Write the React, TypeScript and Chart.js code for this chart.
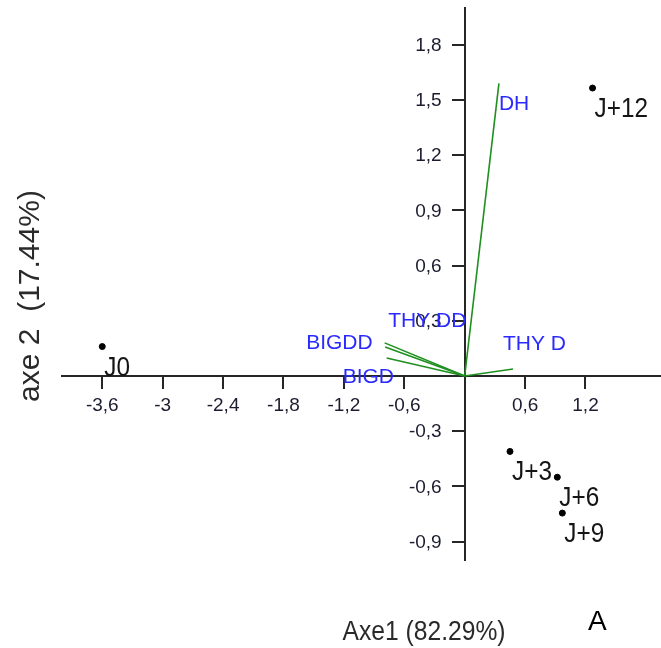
import React, { useEffect, useRef } from "react";
import { Chart, registerables } from "chart.js";

Chart.register(...registerables);

// ---- data ----
const obsLabels = ["J0", "J+3", "J+6", "J+9", "J+12"];
const obsX = [-3.6, 0.45, 0.92, 0.97, 1.27];
const obsY = [0.16, -0.41, -0.55, -0.745, 1.565];

const varLabels = ["DH", "THY D", "BIGDD", "THY DD", "BIGD"];
const varX = [0.34, 0.48, -0.795, -0.79, -0.775];
const varY = [1.59, 0.038, 0.18, 0.158, 0.098];

const xTicks = [-3.6, -3, -2.4, -1.8, -1.2, -0.6, 0.6, 1.2];
const yTicks = [-0.9, -0.6, -0.3, 0.3, 0.6, 0.9, 1.2, 1.5, 1.8];

const xTitle = "Axe1 (82.29%)";
const yTitle = "axe 2  (17.44%)";
const panelLetter = "A";

// ---- styles ----
const FONT = "'Liberation Sans', Arial, sans-serif";
const BLUE = "#2a2aff";
const GREEN = "#1f8f1f";
const AXIS = "#262626";
const TICK = "#1c1c30";
const TICK_LEN = 12;
// label offsets (px) relative to arrow tips: [dx, dy, align]
const VAR_LABEL_OFFSETS: [number, number, CanvasTextAlign][] = [
  [0, 27, "left"],
  [-10, -19, "left"],
  [-12, 6, "right"],
  [3, -20, "left"],
  [-44, 25, "left"],
];

const fmt = (v: number) => {
  const r = Math.round(v * 10) / 10;
  return Number.isInteger(r) ? String(r) : r.toFixed(1).replace(".", ",");
};

const yTickLabels = {
  id: "yTickLabels",
  beforeDatasetsDraw(chart: any) {
    const ctx: CanvasRenderingContext2D = chart.ctx;
    const xs = chart.scales.x;
    const ys = chart.scales.y;
    const x0 = xs.getPixelForValue(0);
    ctx.save();
    ctx.font = `19px ${FONT}`;
    ctx.fillStyle = TICK;
    ctx.textAlign = "right";
    ctx.textBaseline = "middle";
    ys.ticks.forEach((t: any) => {
      ctx.fillText(fmt(t.value), x0 - TICK_LEN - 11, ys.getPixelForValue(t.value) + 1);
    });
    ctx.restore();
  },
};

const overlay = {
  id: "overlay",
  afterDatasetsDraw(chart: any) {
    const ctx: CanvasRenderingContext2D = chart.ctx;
    const xs = chart.scales.x;
    const ys = chart.scales.y;
    ctx.save();
    // variable labels
    ctx.font = `21px ${FONT}`;
    ctx.fillStyle = BLUE;
    ctx.textBaseline = "alphabetic";
    varLabels.forEach((lab, i) => {
      const px = xs.getPixelForValue(varX[i]);
      const py = ys.getPixelForValue(varY[i]);
      const [dx, dy, align] = VAR_LABEL_OFFSETS[i];
      ctx.textAlign = align;
      ctx.fillText(lab, px + dx, py + dy);
    });
    // observation labels
    ctx.fillStyle = "#151515";
    ctx.font = `28px ${FONT}`;
    ctx.textAlign = "left";
    obsLabels.forEach((lab, i) => {
      const px = xs.getPixelForValue(obsX[i]);
      const py = ys.getPixelForValue(obsY[i]);
      ctx.save();
      ctx.translate(px + 2, py + 29);
      ctx.scale(0.87, 1);
      ctx.fillText(lab, 0, 0);
      ctx.restore();
    });
    // x title
    ctx.fillStyle = "#2a2a2a";
    ctx.font = `28px ${FONT}`;
    ctx.save();
    ctx.translate(424, 640);
    ctx.scale(0.88, 1);
    ctx.textAlign = "center";
    ctx.fillText(xTitle, 0, 0);
    ctx.restore();
    // y title
    ctx.save();
    ctx.translate(39, 296);
    ctx.rotate(-Math.PI / 2);
    ctx.textAlign = "center";
    ctx.font = `30px ${FONT}`;
    ctx.fillText(yTitle, 0, 0);
    ctx.restore();
    // panel letter
    ctx.fillStyle = "#000";
    ctx.font = `28px ${FONT}`;
    ctx.textAlign = "left";
    ctx.fillText(panelLetter, 588, 630);
    ctx.restore();
  },
};

export default function App() {
  const ref = useRef<HTMLCanvasElement | null>(null);
  useEffect(() => {
    if (!ref.current) return;
    const vectorSets = varLabels.map((lab, i) => ({
      label: lab,
      data: [
        { x: 0, y: 0 },
        { x: varX[i], y: varY[i] },
      ],
      showLine: true,
      borderColor: GREEN,
      borderWidth: 1.6,
      pointRadius: 0,
      fill: false,
    }));
    const chart = new Chart(ref.current, {
      type: "scatter",
      data: {
        datasets: [
          ...vectorSets,
          {
            label: "obs",
            data: obsX.map((x, i) => ({ x, y: obsY[i] })),
            backgroundColor: "#000",
            borderColor: "#000",
            pointRadius: 3,
            showLine: false,
          },
        ],
      },
      options: {
        animation: false,
        responsive: false,
        devicePixelRatio: 1,
        layout: { autoPadding: false, padding: { left: 62, right: 0, top: 8, bottom: 88 } },
        plugins: { legend: { display: false }, tooltip: { enabled: false } },
        scales: {
          x: {
            type: "linear",
            min: -4.0,
            max: 1.95,
            position: { y: 0 },
            afterBuildTicks: (s: any) => {
              s.ticks = xTicks.map((v) => ({ value: v }));
            },
            afterFit: (s: any) => {
              s.height = 0;
              s.paddingLeft = s.paddingRight = s.paddingTop = s.paddingBottom = 0;
            },
            grid: { drawOnChartArea: false, drawTicks: true, tickLength: TICK_LEN, color: AXIS, lineWidth: 2 },
            border: { display: true, color: AXIS, width: 2 },
            ticks: {
              font: { family: FONT, size: 19 },
              color: TICK,
              padding: 6,
              maxRotation: 0,
              autoSkip: false,
              callback: (v: any) => fmt(Number(v)),
            },
          },
          y: {
            type: "linear",
            min: -1.0,
            max: 2.0,
            position: { x: 0 },
            afterBuildTicks: (s: any) => {
              s.ticks = yTicks.map((v) => ({ value: v }));
            },
            afterFit: (s: any) => {
              s.width = 0;
              s.paddingLeft = s.paddingRight = s.paddingTop = s.paddingBottom = 0;
            },
            grid: { drawOnChartArea: false, drawTicks: true, tickLength: TICK_LEN, color: AXIS, lineWidth: 2 },
            border: { display: true, color: AXIS, width: 2 },
            ticks: { display: false },
          },
        },
      },
      plugins: [yTickLabels, overlay],
    } as any);
    return () => chart.destroy();
  }, []);
  return (
    <div style={{ position: "absolute", left: 0, top: 0, width: 661, height: 648, background: "#fff" }}>
      <canvas ref={ref} width={661} height={648} style={{ display: "block" }} />
    </div>
  );
}
